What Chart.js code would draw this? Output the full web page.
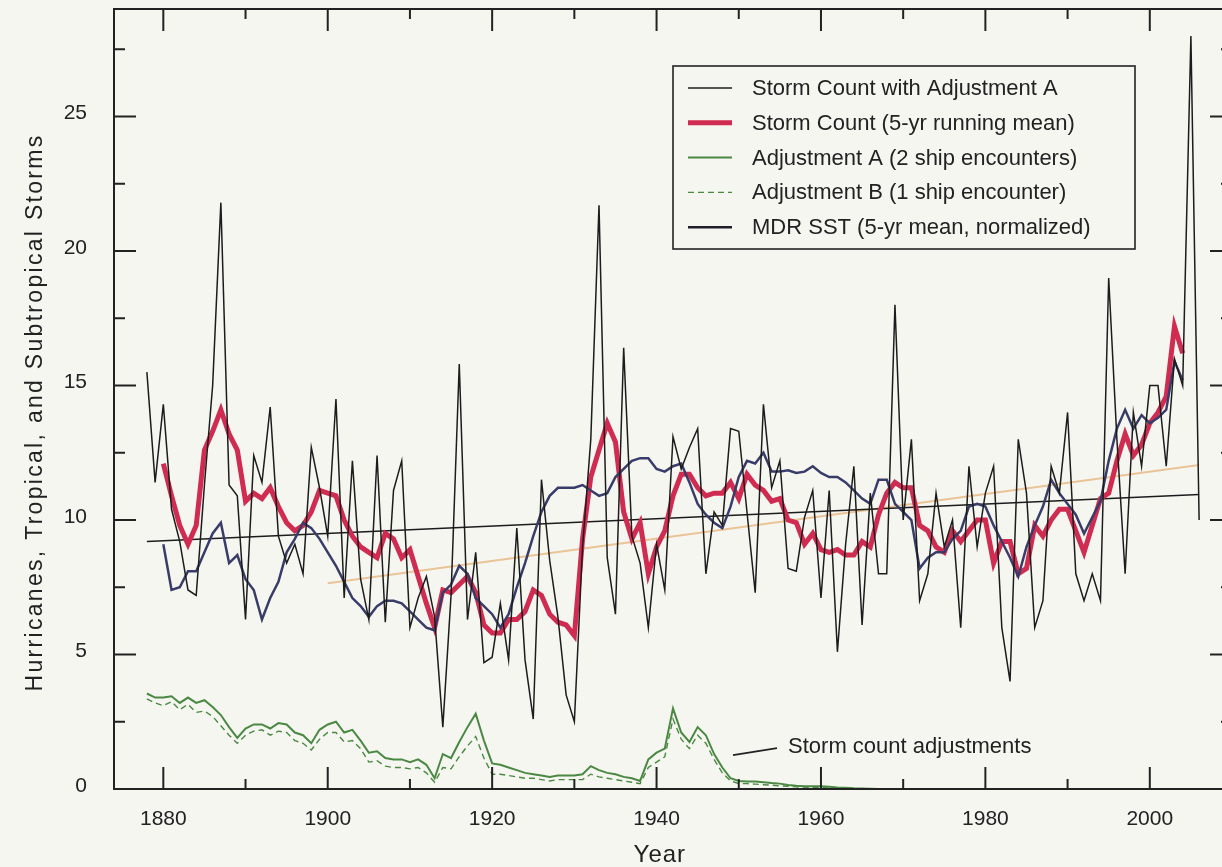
<!DOCTYPE html>
<html>
<head>
<meta charset="utf-8">
<title>Atlantic storm counts</title>
<script src="https://cdn.jsdelivr.net/npm/chart.js@4.4.1/dist/chart.umd.min.js"></script>
<style>
  html, body { margin: 0; padding: 0; background: #f6f6f1; overflow: hidden; }
  #wrap { position: relative; width: 1232px; height: 867px; }
</style>
</head>
<body>
<div id="wrap"><canvas id="chart"></canvas></div>
<script>
// annual storm counts (with adjustment A), 1878-2006
const countStart = 1878;
const stormCount = [
  15.5, 11.4, 14.3, 10.4, 9.2, 7.4, 7.2, 11.3, 15.0, 21.8,
  11.3, 10.9, 6.3, 12.4, 11.4, 14.2, 9.4, 8.4, 9.1, 8.0,
  12.7, 11.2, 9.4, 14.5, 7.1, 12.2, 7.8, 6.3, 12.4, 6.2,
  11.1, 12.2, 6.0, 7.1, 7.9, 6.4, 2.3, 7.2, 15.8, 6.3,
  8.8, 4.7, 4.9, 6.9, 4.8, 9.7, 4.8, 2.6, 11.5, 8.5,
  6.4, 3.5, 2.5, 9.0, 13.0, 21.7, 8.6, 6.5, 16.4, 9.4,
  8.4, 6.0, 9.1, 7.4, 13.1, 11.9, 12.7, 13.4, 8.0, 10.3,
  9.8, 13.4, 13.3, 10.3, 7.3, 14.3, 11.2, 12.2, 8.2, 8.1,
  10.1, 11.1, 7.1, 11.1, 5.1, 9.1, 12.0, 6.1, 11.0, 8.0,
  8.0, 18.0, 10.0, 13.0, 7.0, 8.0, 11.0, 9.0, 10.0, 6.0,
  12.0, 9.0, 11.0, 12.0, 6.0, 4.0, 13.0, 11.0, 6.0, 7.0,
  12.0, 11.0, 14.0, 8.0, 7.0, 8.0, 7.0, 19.0, 13.0, 8.0,
  14.0, 12.0, 15.0, 15.0, 12.0, 16.0, 15.0, 28.0, 10.0
];

// 5-yr running mean and MDR SST, 1880-2004
const meanStart = 1880;
const runningMean = [
  12.1, 10.9, 9.8, 9.1, 9.8, 12.6, 13.3, 14.1, 13.2, 12.6,
  10.7, 11.0, 10.8, 11.2, 10.5, 9.9, 9.6, 9.8, 10.3, 11.1,
  11.0, 10.9, 10.0, 9.4, 9.0, 8.8, 8.6, 9.5, 9.3, 8.6,
  8.9, 7.9, 6.9, 6.0, 7.4, 7.3, 7.6, 7.9, 7.3, 6.1,
  5.8, 5.8, 6.3, 6.3, 6.6, 7.4, 7.2, 6.5, 6.2, 6.1,
  5.7, 9.3, 11.6, 12.6, 13.6, 12.9, 10.3, 9.3, 9.9, 8.0,
  9.0, 9.6, 10.9, 11.7, 11.7, 11.2, 10.9, 11.0, 11.0, 11.4,
  10.8, 11.7, 11.3, 11.1, 10.7, 10.8, 10.0, 9.9, 9.1, 9.5,
  8.9, 8.8, 8.9, 8.7, 8.7, 9.2, 9.0, 10.2, 11.0, 11.4,
  11.2, 11.2, 9.8, 9.6, 9.0, 8.8, 9.6, 9.2, 9.6, 10.0,
  10.0, 8.4, 9.2, 9.2, 8.0, 8.2, 9.8, 9.4, 10.0, 10.4,
  10.4, 9.6, 8.8, 9.8, 10.8, 11.0, 12.2, 13.2, 12.4, 12.8,
  13.6, 14.0, 14.6, 17.2, 16.2
];
const mdrSst = [
  9.1, 7.4, 7.5, 8.1, 8.1, 8.8, 9.5, 9.9, 8.4, 8.7,
  7.8, 7.4, 6.3, 7.1, 7.7, 8.8, 9.3, 9.9, 9.7, 9.3,
  8.8, 8.3, 7.7, 7.1, 6.8, 6.4, 6.8, 7.0, 7.0, 6.9,
  6.6, 6.3, 6.0, 5.9, 7.3, 7.6, 8.3, 8.0, 7.1, 6.8,
  6.5, 6.0, 6.5, 7.5, 8.4, 9.4, 10.3, 10.9, 11.2, 11.2,
  11.2, 11.3, 11.1, 10.9, 11.0, 11.6, 11.9, 12.2, 12.3, 12.3,
  11.9, 11.8, 12.0, 12.1, 11.4, 10.6, 10.2, 9.9, 9.7, 10.5,
  11.6, 12.2, 12.1, 12.5, 11.8, 11.8, 11.85, 11.75, 11.8, 12.0,
  11.75, 11.6, 11.6, 11.4, 11.1, 10.8, 10.6, 11.5, 11.5, 10.6,
  10.3, 10.0, 8.2, 8.6, 8.8, 8.8, 9.3, 9.6, 10.5, 10.6,
  10.5, 9.8, 9.2, 8.6, 7.9, 9.0, 9.8, 10.5, 11.5, 11.0,
  10.6, 10.2, 9.5, 10.1, 10.7, 12.2, 13.4, 14.1, 13.4, 13.9,
  13.6, 13.8, 14.1, 15.9, 15.2
];

// ship-encounter adjustments, 1878-1970
const adjStart = 1878;
const adjustmentA = [
  3.55, 3.4, 3.4, 3.45, 3.2, 3.4, 3.2, 3.3, 3.05, 2.75,
  2.3, 1.9, 2.25, 2.4, 2.4, 2.25, 2.45, 2.4, 2.1, 2.0,
  1.7, 2.2, 2.4, 2.5, 2.1, 2.2, 1.8, 1.35, 1.4, 1.15,
  1.1, 1.1, 1.0, 1.1, 0.9, 0.4, 1.3, 1.15, 1.75, 2.3,
  2.8, 1.8, 0.95, 0.9, 0.8, 0.7, 0.6, 0.55, 0.5, 0.45,
  0.5, 0.5, 0.5, 0.55, 0.85, 0.7, 0.6, 0.55, 0.45, 0.4,
  0.3, 1.1, 1.35, 1.5, 3.0, 2.1, 1.75, 2.3, 2.0, 1.3,
  0.8, 0.4, 0.3, 0.28, 0.28, 0.25, 0.22, 0.2, 0.15, 0.12,
  0.1, 0.1, 0.1, 0.08, 0.06, 0.05, 0.03, 0.02, 0.01, 0,
  0, 0, 0
];
const adjustmentB = [
  3.35, 3.2, 3.1, 3.25, 2.95, 3.15, 2.85, 2.9, 2.7, 2.35,
  2.0, 1.7, 2.0, 2.15, 2.2, 2.0, 2.15, 2.1, 1.8, 1.7,
  1.45, 1.85, 2.1, 2.1, 1.75, 1.8, 1.5, 1.0, 1.05, 0.85,
  0.8, 0.8, 0.75, 0.8, 0.6, 0.25, 0.8, 0.75, 1.2, 1.6,
  1.95, 1.15, 0.55, 0.55, 0.5, 0.45, 0.4, 0.4, 0.35, 0.3,
  0.35, 0.35, 0.35, 0.35, 0.55, 0.45, 0.4, 0.35, 0.3, 0.25,
  0.2, 0.8, 1.0, 1.2, 2.6, 1.85, 1.5, 2.0, 1.7, 1.1,
  0.6, 0.3, 0.2, 0.2, 0.18, 0.16, 0.14, 0.12, 0.1, 0.08,
  0.07, 0.06, 0.05, 0.04, 0.03, 0.02, 0.01, 0, 0, 0,
  0, 0, 0
];

// straight trend lines (end points)
const countTrendYears = [1878, 2006];
const countTrend = [9.2, 10.95];
const sstTrendYears = [1900, 2006];
const sstTrend = [7.65, 12.05];

// axis ticks: all tick marks, and the labelled ones
const yearGrid = [1880, 1890, 1900, 1910, 1920, 1930, 1940, 1950, 1960, 1970, 1980, 1990, 2000, 2010];
const yearTicks = [1880, 1900, 1920, 1940, 1960, 1980, 2000];
const stormGrid = [0, 2.5, 5, 7.5, 10, 12.5, 15, 17.5, 20, 22.5, 25, 27.5];
const stormTicks = [0, 5, 10, 15, 20, 25];

const fontFamily = '"Liberation Sans", Arial, Helvetica, sans-serif';
const ink = '#222222';
const paper = '#f6f6f1';

function series(start, values) {
  return values.map((v, i) => ({ x: start + i, y: v }));
}
function pairs(xs, ys) {
  return xs.map((x, i) => ({ x: x, y: ys[i] }));
}

// frame, inward ticks on all four sides, tick labels
const frameTicks = {
  id: 'frameTicks',
  afterDatasetsDraw(chart) {
    const { ctx, chartArea: a, scales: { x, y } } = chart;
    ctx.save();
    ctx.strokeStyle = ink;
    ctx.lineWidth = 2;
    ctx.strokeRect(a.left, a.top, a.right - a.left, a.bottom - a.top);
    ctx.beginPath();
    x.ticks.forEach(t => {
      const px = x.getPixelForValue(t.value);
      const len = yearTicks.includes(t.value) ? 22 : 10;
      ctx.moveTo(px, a.bottom); ctx.lineTo(px, a.bottom - len);
      ctx.moveTo(px, a.top); ctx.lineTo(px, a.top + len);
    });
    y.ticks.forEach(t => {
      const py = y.getPixelForValue(t.value);
      const len = stormTicks.includes(t.value) ? 22 : 11;
      ctx.moveTo(a.left, py); ctx.lineTo(a.left + len, py);
      ctx.moveTo(a.right, py); ctx.lineTo(a.right - len, py);
    });
    ctx.stroke();

    ctx.fillStyle = ink;
    ctx.font = '21px ' + fontFamily;
    ctx.textBaseline = 'middle';
    ctx.textAlign = 'center';
    x.ticks.filter(t => yearTicks.includes(t.value)).forEach(t => {
      ctx.fillText(String(t.value), x.getPixelForValue(t.value), a.bottom + 30);
    });
    ctx.textAlign = 'right';
    y.ticks.filter(t => stormTicks.includes(t.value)).forEach(t => {
      ctx.fillText(String(t.value), a.left - 27, y.getPixelForValue(t.value) - 3);
    });
    ctx.restore();
  }
};

// boxed legend inside the plot, upper right
const boxLegend = {
  id: 'boxLegend',
  afterDraw(chart, args, opts) {
    const { ctx, chartArea: a } = chart;
    const left = a.left + opts.dx, top = a.top + opts.dy;
    const items = chart.data.datasets.filter(d => d.legendRank).sort((p, q) => p.legendRank - q.legendRank);
    ctx.save();
    ctx.fillStyle = paper;
    ctx.fillRect(left, top, opts.width, opts.height);
    ctx.strokeStyle = ink;
    ctx.lineWidth = 1.6;
    ctx.strokeRect(left, top, opts.width, opts.height);
    ctx.font = '22px ' + fontFamily;
    ctx.textBaseline = 'middle';
    items.forEach((d, i) => {
      const yy = top + 22 + i * opts.rowGap;
      ctx.strokeStyle = d.legendColor || d.borderColor;
      ctx.lineWidth = d.borderWidth;
      ctx.setLineDash(d.borderDash || []);
      ctx.beginPath();
      ctx.moveTo(left + 15, yy);
      ctx.lineTo(left + 59, yy);
      ctx.stroke();
      ctx.setLineDash([]);
      ctx.fillStyle = ink;
      ctx.fillText(d.label, left + 79, yy + 1);
    });
    ctx.restore();
  }
};

// axis titles and the adjustments note
const chartText = {
  id: 'chartText',
  afterDraw(chart) {
    const { ctx, scales: { x, y } } = chart;
    ctx.save();
    ctx.fillStyle = ink;
    ctx.textAlign = 'center';
    ctx.textBaseline = 'middle';
    ctx.font = '24px ' + fontFamily;
    ctx.letterSpacing = '1px';
    ctx.fillText('Year', x.getPixelForValue(1940.4), 855);

    ctx.save();
    ctx.font = '23px ' + fontFamily;
    ctx.letterSpacing = '2.3px';
    ctx.translate(36, y.getPixelForValue(14.0));
    ctx.rotate(-Math.PI / 2);
    ctx.fillText('Hurricanes, Tropical, and Subtropical Storms', 0, 0);
    ctx.restore();

    ctx.font = '22px ' + fontFamily;
    ctx.letterSpacing = '0px';
    ctx.textAlign = 'left';
    ctx.fillText('Storm count adjustments', x.getPixelForValue(1956.0), y.getPixelForValue(1.56));
    ctx.strokeStyle = ink;
    ctx.lineWidth = 1.6;
    ctx.beginPath();
    ctx.moveTo(x.getPixelForValue(1949.3), y.getPixelForValue(1.26));
    ctx.lineTo(x.getPixelForValue(1954.65), y.getPixelForValue(1.52));
    ctx.stroke();
    ctx.restore();
  }
};

const line = (extra) => Object.assign({
  type: 'line',
  pointRadius: 0,
  tension: 0,
  fill: false,
  borderJoinStyle: 'miter',
  borderCapStyle: 'butt'
}, extra);

const ctx = document.getElementById('chart').getContext('2d');
const chart = new Chart(ctx, {
  type: 'line',
  data: {
    datasets: [
      line({ label: 'Storm Count with Adjustment A', data: series(countStart, stormCount),
             borderColor: '#1c1c1c', borderWidth: 1.5, order: 1, legendRank: 1 }),
      line({ label: 'MDR SST (5-yr mean, normalized)', data: series(meanStart, mdrSst),
             borderColor: '#393c68', legendColor: '#1e1e2a', borderWidth: 2.5, order: 2, legendRank: 5 }),
      line({ label: 'Storm Count (5-yr running mean)', data: series(meanStart, runningMean),
             borderColor: '#d02b50', borderWidth: 5, order: 3, legendRank: 2 }),
      line({ label: 'count trend', data: pairs(countTrendYears, countTrend),
             borderColor: '#1c1c1c', borderWidth: 1.5, order: 4 }),
      line({ label: 'sst trend', data: pairs(sstTrendYears, sstTrend),
             borderColor: '#e9c497', borderWidth: 2, order: 5 }),
      line({ label: 'Adjustment A (2 ship encounters)', data: series(adjStart, adjustmentA),
             borderColor: '#4a8843', borderWidth: 2, order: 6, legendRank: 3 }),
      line({ label: 'Adjustment B (1 ship encounter)', data: series(adjStart, adjustmentB),
             borderColor: '#4a8843', borderWidth: 1.4, borderDash: [6, 4], order: 7, legendRank: 4 })
    ]
  },
  options: {
    responsive: true,
    maintainAspectRatio: false,
    animation: false,
    events: [],
    layout: { padding: { top: 9, right: 0, left: 0, bottom: 0 } },
    plugins: {
      legend: { display: false },
      tooltip: { enabled: false },
      boxLegend: { dx: 559, dy: 57, width: 462, height: 183, rowGap: 34.8 }
    },
    scales: {
      x: {
        type: 'linear',
        min: 1874,
        max: 2010,
        grid: { display: false },
        border: { display: false },
        ticks: { display: false },
        afterBuildTicks: s => { s.ticks = yearGrid.map(v => ({ value: v })); },
        afterFit: s => { s.height = 78; }
      },
      y: {
        min: 0,
        max: 29,
        grid: { display: false },
        border: { display: false },
        ticks: { display: false },
        afterBuildTicks: s => { s.ticks = stormGrid.map(v => ({ value: v })); },
        afterFit: s => { s.width = 114; }
      }
    }
  },
  plugins: [frameTicks, boxLegend, chartText]
});
</script>
</body>
</html>
